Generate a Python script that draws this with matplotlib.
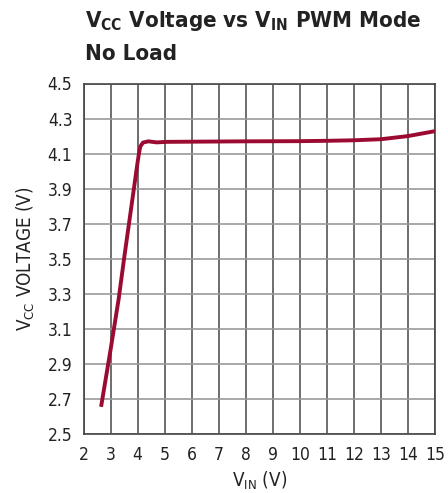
import matplotlib
matplotlib.use('Agg')
import matplotlib.pyplot as plt
import numpy as np

# curve
vin = [2.65, 3.0, 3.3, 3.5, 4.0, 4.05, 4.1, 4.2, 4.4, 4.7, 5.1, 6.0, 8.0, 10.0, 11.0, 12.0, 13.0, 14.0, 15.0]
vcc = [2.655, 2.98, 3.27, 3.50, 4.05, 4.10, 4.14, 4.163, 4.170, 4.164, 4.167, 4.168, 4.170, 4.171, 4.173, 4.176, 4.182, 4.200, 4.228]

xticks = list(range(2, 16))
yticks = [2.5, 2.7, 2.9, 3.1, 3.3, 3.5, 3.7, 3.9, 4.1, 4.3, 4.5]

font = 'DejaVu Sans'
plt.rcParams['font.family'] = [font]
plt.rcParams['font.stretch'] = 'condensed'
plt.rcParams['mathtext.fontset'] = 'custom'
plt.rcParams['mathtext.rm'] = font + ':stretch=condensed'
plt.rcParams['mathtext.it'] = font + ':stretch=condensed'
plt.rcParams['mathtext.bf'] = font + ':bold:stretch=condensed'

fig = plt.figure(figsize=(4.48, 4.93), dpi=100)
ax = fig.add_axes([83.5 / 448, 1 - 434 / 493, 351.5 / 448, 350.5 / 493])

ax.plot(vin, vcc, color='#9b0a30', linewidth=2.8, solid_capstyle='butt', zorder=3)

ax.set_xlim(2, 15)
ax.set_ylim(2.5, 4.5)
ax.set_xticks(xticks)
ax.set_yticks(yticks)
ax.set_yticklabels([f'{v:.1f}' for v in yticks])
ax.tick_params(length=0, labelsize=12.5, colors='#222222')
ax.tick_params(axis='y', pad=8)
ax.tick_params(axis='x', pad=9)

for x in xticks:
    ax.axvline(x, color='#555555', linewidth=1.2, zorder=1)
for y in yticks:
    ax.axhline(y, color='#999999', linewidth=1.2, zorder=1)
for s in ax.spines.values():
    s.set_color('#444444')
    s.set_linewidth(1.2)

ax.set_xlabel(r'V$_{\mathregular{IN}}$ (V)', fontsize=13.5, labelpad=4, color='#222222')
ax.set_ylabel(r'V$_{\mathregular{CC}}$ VOLTAGE (V)', fontsize=13.5, labelpad=8, color='#222222')

fig.text(85 / 448, 1 - 27 / 493, r'$\mathbf{V_{CC}}$ Voltage vs $\mathbf{V_{IN}}$ PWM Mode',
         fontsize=16, fontweight='bold', ha='left', va='baseline', color='#222222')
fig.text(85 / 448, 1 - 60 / 493, 'No Load',
         fontsize=16, fontweight='bold', ha='left', va='baseline', color='#222222')

fig.savefig('out.png', dpi=100)
